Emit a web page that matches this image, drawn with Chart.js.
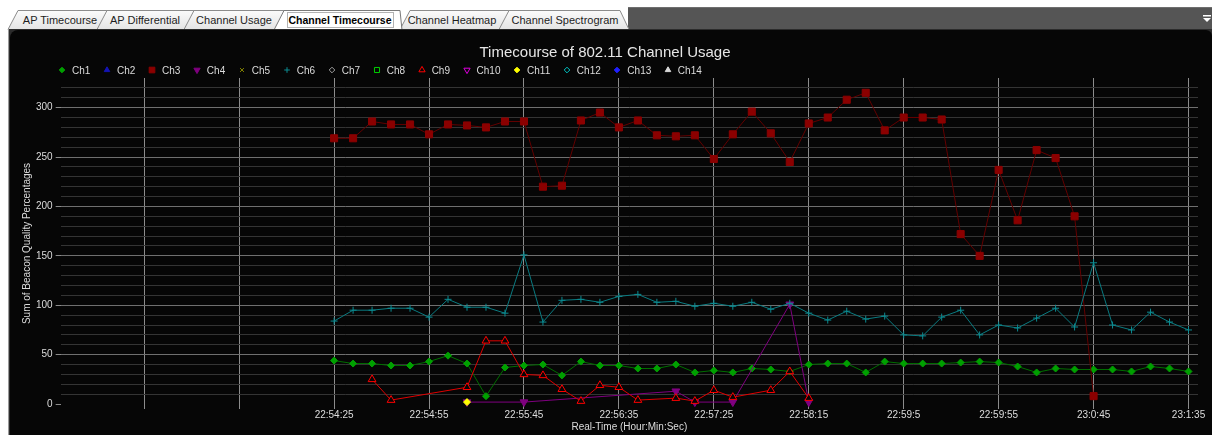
<!DOCTYPE html>
<html>
<head>
<meta charset="utf-8">
<title>Channel Timecourse</title>
<script src="https://cdn.jsdelivr.net/npm/chart.js@4.4.1/dist/chart.umd.min.js"></script>
<style>
  body { margin: 0; background: #fff; width: 1214px; height: 435px; overflow: hidden; position: relative; font-family: 'Liberation Sans', Arial, sans-serif; }
  #abas { position: absolute; left: 0; top: 0; }
  #moldura { position: absolute; left: 8px; top: 29px; width: 1204px; height: 406px; background: #2c2c2c; border-left: 1px solid #9a9a9a; box-sizing: border-box; }
  #painel { position: absolute; left: 1px; top: 1px; right: 0; bottom: 0; background: #060606; border-radius: 8px 6px 0 0; }
  #areaGrafico { position: absolute; left: 12px; top: 31px; width: 1198px; height: 404px; }
  #legenda { position: absolute; left: 57px; top: 63px; height: 14px; display: flex; align-items: center; font-size: 10px; color: #dcdcdc; white-space: nowrap; }
  #legenda .item { display: flex; align-items: center; margin-right: 11.6px; }
  #legenda canvas { margin-right: 5px; }
</style>
</head>
<body>

<svg id="abas" width="1214" height="31">
  <defs>
    <linearGradient id="fundoAba" x1="0" y1="0" x2="0" y2="1">
      <stop offset="0" stop-color="#fbfbfb"/>
      <stop offset="1" stop-color="#e4e4e4"/>
    </linearGradient>
  </defs>
  <rect x="628" y="7" width="584" height="22" fill="#555"/>
  <line x1="628" y1="7.5" x2="1212" y2="7.5" stroke="#6e6e6e"/>
  <g stroke="#8c8c8c" stroke-width="1" fill="url(#fundoAba)">
    <path d="M8,29.5 L18,10.5 L108,10.5 L108,29.5"/>
    <path d="M97,29.5 L107,10.5 L195,10.5 L195,29.5"/>
    <path d="M184,29.5 L194,10.5 L285,10.5 L285,29.5"/>
    <path d="M400,29.5 L410,10.5 L510,10.5 L510,29.5"/>
    <path d="M499,29.5 L509,10.5 L620,10.5 L629,29.5"/>
    <path d="M274,30 L284,10.5 L400,10.5 L402,30" fill="#fff" stroke="#7a7a7a"/>
  </g>
  <rect x="287.5" y="12.5" width="106" height="15" fill="none" stroke="#666" stroke-dasharray="1,1"/>
  <g font-family="Liberation Sans, Arial, sans-serif" font-size="11" fill="#1e1e1e" text-anchor="middle">
    <text x="60" y="24">AP Timecourse</text>
    <text x="145" y="24">AP Differential</text>
    <text x="234" y="24">Channel Usage</text>
    <text x="340" y="24" font-weight="bold" font-size="10.5" fill="#000">Channel Timecourse</text>
    <text x="452" y="24">Channel Heatmap</text>
    <text x="565" y="24">Channel Spectrogram</text>
  </g>
  <rect x="1203" y="15" width="8" height="1.5" fill="#fff"/>
  <path d="M1203,18 L1211,18 L1207,22 Z" fill="#fff"/>
</svg>

<div id="moldura"><div id="painel"></div></div>
<div id="areaGrafico"><canvas id="graficoCanais"></canvas></div>
<div id="legenda"></div>

<script>
// eixo x: numero da amostra e rotulos de tempo das linhas verticais
const amostras = [0, 1, 2, 3, 4, 5, 6, 7, 8, 9, 10, 11, 12, 13, 14, 15, 16, 17, 18, 19, 20, 21, 22,
    23, 24, 25, 26, 27, 28, 29, 30, 31, 32, 33, 34, 35, 36, 37, 38, 39, 40, 41, 42, 43, 44, 45];
const rotulosTempo = ['22:54:25', '22:54:55', '22:55:45', '22:56:35', '22:57:25',
    '22:58:15', '22:59:5', '22:59:55', '23:0:45', '23:1:35'];

const canais = ['Ch1', 'Ch2', 'Ch3', 'Ch4', 'Ch5', 'Ch6', 'Ch7', 'Ch8', 'Ch9', 'Ch10', 'Ch11', 'Ch12', 'Ch13', 'Ch14'];

// valores por canal (null = sem leitura)
const ch1 = [44, 41, 41, 39, 39, 43, 49, 41, 8, 37, 39, 40, 29, 43, 39, 39, 36, 36, 40, 32, 34, 32, 36,
    35, 33, 40, 41, 41, 32, 43, 41, 41, 41, 42, 43, 42, 38, 32, 36, 35, 35, 35, 33, 38, 36, 33];
const ch2 = [];
const ch3 = [269, 269, 286, 283, 283, 273, 283, 282, 280, 286, 286, 220, 221, 287, 295, 280, 287, 272,
    271, 272, 248, 273, 296, 274, 245, 284, 290, 308, 315, 277, 290, 290, 288, 172, 150, 237, 186,
    257, 249, 190, 8];
const ch4 = [null, null, null, null, null, null, null, 2, null, null, 2, null, null, null, null, null,
    null, null, 13, 2, null, 2, null, null, 101, 2];
const ch5 = [];
const ch6 = [84, 95, 95, 97, 97, 88, 106, 98, 98, 92, 151, 83, 105, 106, 103, 109, 111, 103, 104, 99,
    102, 99, 103, 96, 102, 92, 85, 94, 86, 89, 70, 69, 88, 95, 70, 80, 77, 87, 97, 78, 143, 80, 75, 93, 83, 75];
const ch7 = [];
const ch8 = [];
const ch9 = [null, null, 25, 4, null, null, null, 17, 64, 64, 30, 29, 15, 3, 19, 17, 4, null, 6, 3, 14,
    7, null, 14, 33, 6];
const ch10 = [];
const ch11 = [null, null, null, null, null, null, null, 2];
const ch12 = [];
const ch13 = [];
const ch14 = [];

const series = [ch1, ch2, ch3, ch4, ch5, ch6, ch7, ch8, ch9, ch10, ch11, ch12, ch13, ch14];

// aparencia de cada canal
const estilos = [
    { linha: '#006f00', cor: '#00a000', ponto: 'rectRot', raio: 3.5 },
    { linha: '#1010a0', cor: '#1414b4', ponto: 'triangle', raio: 4 },
    { linha: '#640000', cor: '#8b0000', ponto: 'rect', raio: 5 },
    { linha: '#800080', cor: '#800080', ponto: 'triangle', raio: 4.5, rot: 180 },
    { linha: '#808000', cor: '#808000', ponto: 'crossRot', raio: 3.5 },
    { linha: '#0a7c82', cor: '#0c8c92', ponto: 'cross', raio: 3.5 },
    { linha: '#a0a0a0', cor: '#a0a0a0', ponto: 'rectRot', raio: 3.5, vazio: true },
    { linha: '#00c000', cor: '#00d000', ponto: 'rect', raio: 4.5, vazio: true },
    { linha: '#e00000', cor: '#ff0000', ponto: 'triangle', raio: 4.5, vazio: true },
    { linha: '#c000c0', cor: '#e000e0', ponto: 'triangle', raio: 4.5, rot: 180, vazio: true },
    { linha: '#e0e000', cor: '#ffff00', ponto: 'rectRot', raio: 3.5 },
    { linha: '#00b0b0', cor: '#00c8c8', ponto: 'rectRot', raio: 3.5, vazio: true },
    { linha: '#0000ff', cor: '#2020ff', ponto: 'rectRot', raio: 3.5 },
    { linha: '#c8c8c8', cor: '#d8d8d8', ponto: 'triangle', raio: 4 }
];

Chart.defaults.font.family = "'Liberation Sans', Arial, sans-serif";
Chart.defaults.color = '#dcdcdc';

const grafico = new Chart(document.getElementById('graficoCanais'), {
    type: 'line',
    data: {
        labels: amostras,
        datasets: canais.map((nome, i) => ({
            label: nome,
            data: series[i],
            borderColor: estilos[i].linha,
            borderWidth: 1,
            pointStyle: estilos[i].ponto,
            pointRotation: estilos[i].rot || 0,
            pointRadius: estilos[i].raio,
            pointHoverRadius: estilos[i].raio + 1,
            pointBorderColor: estilos[i].cor,
            pointBackgroundColor: estilos[i].vazio ? '#060606' : estilos[i].cor,
            pointBorderWidth: 1,
            spanGaps: true,
            tension: 0,
            order: canais.length - i
        }))
    },
    options: {
        responsive: true,
        maintainAspectRatio: false,
        animation: false,
        layout: { padding: { right: 12 } },
        plugins: {
            title: {
                display: true,
                text: 'Timecourse of 802.11 Channel Usage',
                color: '#e6e6e6',
                font: { size: 15, weight: 'normal' },
                padding: { top: 13, bottom: 16 }
            },
            legend: { display: false },
            tooltip: { enabled: true }
        },
        scales: {
            x: {
                type: 'linear',
                min: -14.4,
                max: 45.5,
                border: { display: false },
                grid: { color: '#8c8c8c', drawTicks: false },
                ticks: {
                    stepSize: 5,
                    includeBounds: false,
                    autoSkip: false,
                    maxRotation: 0,
                    padding: 0,
                    font: { size: 10 },
                    callback: v => {
                        if (v % 5 !== 0) return null;
                        return v >= 0 ? rotulosTempo[v / 5] : '';
                    }
                },
                title: {
                    display: true,
                    text: 'Real-Time (Hour:Min:Sec)',
                    font: { size: 10 },
                    padding: { top: 0, bottom: 2 }
                }
            },
            y: {
                min: -5,
                max: 330,
                border: { display: false },
                grid: {
                    color: c => c.tick.value === 0 ? 'rgba(0,0,0,0)' : (c.tick.value % 50 === 0 ? '#6f6f6f' : '#343434'),
                    tickColor: c => c.tick.value % 50 === 0 ? '#8a8a8a' : 'rgba(0,0,0,0)',
                    tickLength: 5
                },
                ticks: {
                    stepSize: 10,
                    includeBounds: false,
                    autoSkip: false,
                    padding: 3,
                    font: { size: 10 },
                    callback: v => v > 320 ? null : (v % 50 === 0 ? String(v) : '')
                },
                title: {
                    display: true,
                    text: 'Sum of Beacon Quality Percentages',
                    font: { size: 10 },
                    padding: { top: 9, bottom: 0 }
                }
            }
        }
    }
});

// legenda em html, com os mesmos marcadores do grafico
const legenda = document.getElementById('legenda');
grafico.data.datasets.forEach((ds, i) => {
    const item = document.createElement('span');
    item.className = 'item';
    const marca = document.createElement('canvas');
    marca.width = 10;
    marca.height = 10;
    const ctx = marca.getContext('2d');
    ctx.fillStyle = ds.pointBackgroundColor;
    ctx.strokeStyle = ds.pointBorderColor;
    ctx.lineWidth = 1;
    if (Chart.helpers && Chart.helpers.drawPoint) {
        Chart.helpers.drawPoint(ctx, {
            pointStyle: ds.pointStyle,
            rotation: ds.pointRotation,
            radius: ds.pointRadius * 0.8,
            borderWidth: 1
        }, 5, 5);
    }
    const texto = document.createElement('span');
    texto.textContent = ds.label;
    item.appendChild(marca);
    item.appendChild(texto);
    legenda.appendChild(item);
});
</script>
</body>
</html>
